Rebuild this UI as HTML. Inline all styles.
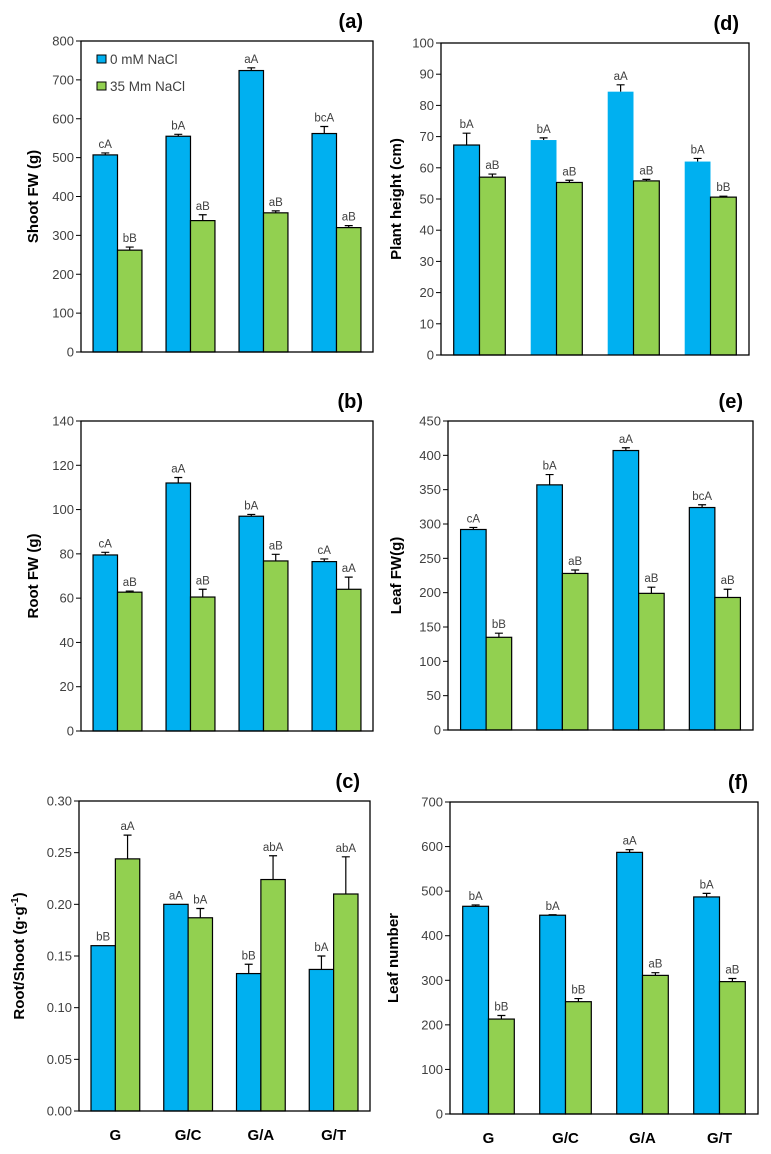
<!DOCTYPE html>
<html><head><meta charset="utf-8"><style>
body{margin:0;background:#fff;}
svg{display:block;font-family:"Liberation Sans",sans-serif;}
.tick{font-size:13px;fill:#404040;}
.lt{font-size:11.5px;fill:#404040;}
</style></head><body>
<svg id="fig" width="771" height="1154" viewBox="0 0 771 1154"></svg>
<script>
const categories=["G","G/C","G/A","G/T"];
const aBlue=[507,555,724,562], aBlueErr=[5,5,7,18], aGreen=[262,338,358,320], aGreenErr=[8,15,5,5];
const aBlueLab=["cA","bA","aA","bcA"], aGreenLab=["bB","aB","aB","aB"];
const bBlue=[79.5,112,97,76.5], bBlueErr=[1.2,2.5,0.8,1.2], bGreen=[62.7,60.5,76.8,64], bGreenErr=[0.5,3.5,3,5.5];
const bBlueLab=["cA","aA","bA","cA"], bGreenLab=["aB","aB","aB","aA"];
const cBlue=[0.160,0.200,0.133,0.137], cBlueErr=[0,0,0.009,0.013], cGreen=[0.244,0.187,0.224,0.210], cGreenErr=[0.023,0.009,0.023,0.036];
const cBlueLab=["bB","aA","bB","bA"], cGreenLab=["aA","bA","abA","abA"];
const dBlue=[67.3,68.9,84.4,62], dBlueErr=[3.8,0.7,2.2,1], dGreen=[57,55.3,55.8,50.6], dGreenErr=[1,0.7,0.5,0.3];
const dBlueLab=["bA","bA","aA","bA"], dGreenLab=["aB","aB","aB","bB"];
const eBlue=[292,357,407,324], eBlueErr=[3,15,4,4], eGreen=[135,228,199,193], eGreenErr=[6,5,9,12];
const eBlueLab=["cA","bA","aA","bcA"], eGreenLab=["bB","aB","aB","aB"];
const fBlue=[466,446,587,487], fBlueErr=[3,1,6,8], fGreen=[213,252,311,297], fGreenErr=[8,7,6,7];
const fBlueLab=["bA","bA","aA","bA"], fGreenLab=["bB","bB","aB","aB"];
const aTicks=[0,100,200,300,400,500,600,700,800];
const bTicks=[0,20,40,60,80,100,120,140];
const cTicks=["0.00","0.05","0.10","0.15","0.20","0.25","0.30"];
const dTicks=[0,10,20,30,40,50,60,70,80,90,100];
const eTicks=[0,50,100,150,200,250,300,350,400,450];
const fTicks=[0,100,200,300,400,500,600,700];

const NS="http://www.w3.org/2000/svg";
const svg=document.getElementById('fig');
function mk(tag,at,parent,txt){const e=document.createElementNS(NS,tag);for(const k in at)e.setAttribute(k,at[k]);if(txt!==undefined)e.textContent=txt;(parent||svg).appendChild(e);return e;}

function panel(o){
  const g=mk('g',{});
  
  
  const ymax=parseFloat(o.ticks[o.ticks.length-1]);
  const y=v=>o.b-(v/ymax)*(o.b-o.t);
  const cw=(o.r-o.l)/categories.length;
  const bw=cw*0.335;
  o.ticks.forEach(tv=>{
    const yy=y(parseFloat(tv));
    const tl=mk('line',{x1:o.l-5,x2:o.l,y1:yy,y2:yy,stroke:'#000','stroke-width':1},g);
    
    
    const tx=mk('text',{x:o.l-7,y:yy+4.5,'text-anchor':'end',class:'tick'},g,String(tv));
    
    
  });
  categories.forEach((c,i)=>{
    const cx=o.l+cw*(i+0.5);
    [[o.blue,o.blueErr,o.blueLab,'#00b0f0',cx-bw,'blue'],[o.green,o.greenErr,o.greenLab,'#92d050',cx,'green']].forEach(s=>{
      const v=s[0][i],er=s[1][i];
      const noStroke=(o.id==='d'&&s[5]==='blue'&&i>0);
      const r=mk('rect',{x:s[4],y:y(v),width:bw,height:o.b-y(v),fill:s[3],stroke:noStroke?'none':'#000','stroke-width':1.2},g);
      
      
      const mx=s[4]+bw/2;
      let top=y(v);
      if(er>0){
        top=y(v+er);
        const el=mk('path',{d:`M${mx},${y(v)}V${top}M${mx-4},${top}H${mx+4}`,stroke:'#000','stroke-width':1.2,fill:'none'},g);
        
        
      }
      const lt=mk('text',{x:mx,y:top-5,'text-anchor':'middle',class:'lt'},g,s[2][i]);
      
      
    });
    if(o.cats){
      const ct=mk('text',{x:cx,y:o.b+29,'text-anchor':'middle','font-size':15,'font-weight':'bold',fill:'#000'},g,c);
      
      
    }
  });
  const fr=mk('rect',{x:o.l,y:o.t,width:o.r-o.l,height:o.b-o.t,fill:'none',stroke:'#000','stroke-width':1.3},g);
  
  
  const yt=mk('text',{x:o.yx,y:(o.t+o.b)/2,transform:`rotate(-90 ${o.yx} ${(o.t+o.b)/2})`,'text-anchor':'middle','font-size':15,'font-weight':'bold',fill:'#000'},g);
  
  
  yt.innerHTML=o.ylab;
  const pt=mk('text',{x:o.r-10,y:o.t-13,'text-anchor':'end','font-size':20,'font-weight':'bold',fill:'#000'},g,'('+o.id+')');
  
  
}
panel({id:'a',l:81,r:373,t:41,b:352,ticks:aTicks,blue:aBlue,blueErr:aBlueErr,green:aGreen,greenErr:aGreenErr,blueLab:aBlueLab,greenLab:aGreenLab,yx:38,ylab:'Shoot FW (g)'});
panel({id:'b',l:81,r:373,t:421,b:731,ticks:bTicks,blue:bBlue,blueErr:bBlueErr,green:bGreen,greenErr:bGreenErr,blueLab:bBlueLab,greenLab:bGreenLab,yx:38,ylab:'Root FW (g)'});
panel({id:'c',l:79,r:370,t:801,b:1111,ticks:cTicks,blue:cBlue,blueErr:cBlueErr,green:cGreen,greenErr:cGreenErr,blueLab:cBlueLab,greenLab:cGreenLab,yx:24,cats:true,ylab:'Root/Shoot (g·g<tspan font-size="10" dy="-6">-1</tspan><tspan dy="6">)</tspan>'});
panel({id:'d',l:441,r:749,t:43,b:355,ticks:dTicks,blue:dBlue,blueErr:dBlueErr,green:dGreen,greenErr:dGreenErr,blueLab:dBlueLab,greenLab:dGreenLab,yx:401,ylab:'Plant height (cm)'});
panel({id:'e',l:448,r:753,t:421,b:730,ticks:eTicks,blue:eBlue,blueErr:eBlueErr,green:eGreen,greenErr:eGreenErr,blueLab:eBlueLab,greenLab:eGreenLab,yx:401,ylab:'Leaf FW(g)'});
panel({id:'f',l:450,r:758,t:802,b:1114,ticks:fTicks,blue:fBlue,blueErr:fBlueErr,green:fGreen,greenErr:fGreenErr,blueLab:fBlueLab,greenLab:fGreenLab,yx:398,cats:true,ylab:'Leaf number'});

// legend
const lg=mk('g',{});


const l1=mk('rect',{x:97,y:55,width:9,height:8,fill:'#00b0f0',stroke:'#000','stroke-width':1},lg);


const t1=mk('text',{x:110,y:64,'font-size':13.5,fill:'#404040'},lg,'0 mM NaCl');


const l2=mk('rect',{x:97,y:82,width:9,height:8,fill:'#92d050',stroke:'#000','stroke-width':1},lg);


const t2=mk('text',{x:110,y:91,'font-size':13.5,fill:'#404040'},lg,'35 Mm NaCl');


</script>
</body></html>
